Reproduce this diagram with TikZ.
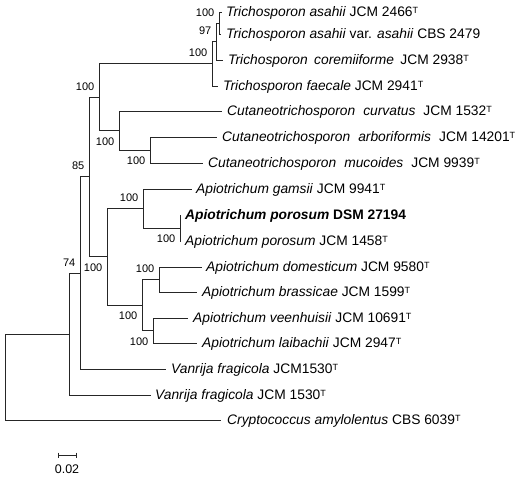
\documentclass[tikz,border=0pt]{standalone}
\usepackage{fontspec}
\setmainfont{Liberation Sans}
\usetikzlibrary{positioning}

% type strain mark
\newcommand{\tstrain}{\raisebox{3.4pt}{\fontsize{9}{9}\selectfont T}}
% wide word gaps
\newcommand{\wsp}{\hskip 8pt}
\newcommand{\msp}{\hskip 6.5pt}

\begin{document}
\begin{tikzpicture}[x=1pt, y=-1pt,
    branch/.style={draw=black!85, line width=0.8pt},
    taxon/.style={inner sep=0pt, font=\fontsize{13.8}{16}\selectfont,
      text height=11.9pt, text depth=2pt},
    boot/.style={inner sep=0pt, font=\fontsize{11}{13}\selectfont,
      anchor=east, xshift=-4.5pt},
    bup/.style={boot, yshift=10.75pt},
    bdown/.style={boot, yshift=-10.75pt}]
  \useasboundingbox (0,0) rectangle (517,478);

  % leaf tips
  \coordinate (t1) at (222, 12);
  \coordinate (t2) at (221, 34);
  \coordinate (t3) at (223, 60);
  \coordinate (t4) at (218, 86);
  \coordinate (t5) at (222, 111);
  \coordinate (t6) at (217, 137);
  \coordinate (t7) at (203, 163);
  \coordinate (t8) at (192, 189);
  \coordinate (t9) at (181, 215);
  \coordinate (t10) at (181, 241);
  \coordinate (t11) at (202, 267);
  \coordinate (t12) at (197, 292);
  \coordinate (t13) at (188, 318);
  \coordinate (t14) at (197, 343);
  \coordinate (t15) at (166, 369);
  \coordinate (t16) at (151, 395);
  \coordinate (t17) at (221, 420);

  % inner nodes
  \coordinate (n1) at (219, 23);
  \coordinate (n2) at (216, 41.5);
  \coordinate (n3) at (212, 63.75);
  \coordinate (n6) at (150, 150);
  \coordinate (n5) at (119, 130.5);
  \coordinate (n4) at (99, 97.1);
  \coordinate (n10) at (180, 228);
  \coordinate (n9) at (143, 208.5);
  \coordinate (n12) at (159, 279.5);
  \coordinate (n13) at (153, 330.5);
  \coordinate (n11) at (142, 305);
  \coordinate (n8) at (107, 256.75);
  \coordinate (n7) at (89, 176.9);
  \coordinate (n14) at (80, 273);
  \coordinate (n15) at (69, 334);
  \coordinate (root) at (5, 377);

  % branches
  \draw[branch] (n1) |- (t1);   \draw[branch] (n1) |- (t2);
  \draw[branch] (n2) |- (n1);   \draw[branch] (n2) |- (t3);
  \draw[branch] (n3) |- (n2);   \draw[branch] (n3) |- (t4);
  \draw[branch] (n6) |- (t6);   \draw[branch] (n6) |- (t7);
  \draw[branch] (n5) |- (t5);   \draw[branch] (n5) |- (n6);
  \draw[branch] (n4) |- (n3);   \draw[branch] (n4) |- (n5);
  \draw[branch] (n10) |- (t9);  \draw[branch] (n10) |- (t10);
  \draw[branch] (n9) |- (t8);   \draw[branch] (n9) |- (n10);
  \draw[branch] (n12) |- (t11); \draw[branch] (n12) |- (t12);
  \draw[branch] (n13) |- (t13); \draw[branch] (n13) |- (t14);
  \draw[branch] (n11) |- (n12); \draw[branch] (n11) |- (n13);
  \draw[branch] (n8) |- (n9);   \draw[branch] (n8) |- (n11);
  \draw[branch] (n7) |- (n4);   \draw[branch] (n7) |- (n8);
  \draw[branch] (n14) |- (n7);  \draw[branch] (n14) |- (t15);
  \draw[branch] (n15) |- (n14); \draw[branch] (n15) |- (t16);
  \draw[branch] (root) |- (n15); \draw[branch] (root) |- (t17);

  % bootstrap values
  \node[bup] (b1) at (n1) {100};
  \node[bup] (b2) at (n2) {97};
  \node[bup] (b3) at (n3) {100};
  \node[bup] (b4) at (n4) {100};
  \node[bdown] (b5) at (n5) {100};
  \node[bdown] (b6) at (n6) {100};
  \node[bup] (b7) at (n7) {85};
  \node[bdown] (b8) at (n8) {100};
  \node[bup] (b9) at (n9) {100};
  \node[bdown] (b10) at (n10) {100};
  \node[bdown] (b11) at (n11) {100};
  \node[bup] (b12) at (n12) {100};
  \node[bdown] (b13) at (n13) {100};
  \node[bup] (b14) at (n14) {74};

  % taxa
  \node[taxon, right=4pt of t1] (L1) {\textit{Trichosporon asahii} JCM 2466\tstrain};
  \node[taxon, right=5pt of t2] (L2) {\textit{Trichosporon asahii} var. \textit{asahii} CBS 2479};
  \node[taxon, right=5pt of t3] (L3) {\textit{Trichosporon\msp coremiiforme}\msp JCM 2938\tstrain};
  \node[taxon, right=5pt of t4] (L4) {\textit{Trichosporon faecale} JCM 2941\tstrain};
  \node[taxon, right=5pt of t5] (L5) {\textit{Cutaneotrichosporon\wsp curvatus}\wsp JCM 1532\tstrain};
  \node[taxon, right=5pt of t6] (L6) {\textit{Cutaneotrichosporon\wsp arboriformis}\wsp JCM 14201\tstrain};
  \node[taxon, right=5pt of t7] (L7) {\textit{Cutaneotrichosporon\wsp mucoides}\wsp JCM 9939\tstrain};
  \node[taxon, right=4pt of t8] (L8) {\textit{Apiotrichum gamsii} JCM 9941\tstrain};
  \node[taxon, right=4pt of t9] (L9) {\textbf{\textit{Apiotrichum porosum} DSM 27194}};
  \node[taxon, right=4pt of t10] (L10) {\textit{Apiotrichum porosum} JCM 1458\tstrain};
  \node[taxon, right=4pt of t11] (L11) {\textit{Apiotrichum domesticum} JCM 9580\tstrain};
  \node[taxon, right=5pt of t12] (L12) {\textit{Apiotrichum brassicae} JCM 1599\tstrain};
  \node[taxon, right=5pt of t13] (L13) {\textit{Apiotrichum veenhuisii} JCM 10691\tstrain};
  \node[taxon, right=5pt of t14] (L14) {\textit{Apiotrichum laibachii} JCM 2947\tstrain};
  \node[taxon, right=5pt of t15] (L15) {\textit{Vanrija fragicola} JCM1530\tstrain};
  \node[taxon, right=4pt of t16] (L16) {\textit{Vanrija fragicola} JCM 1530\tstrain};
  \node[taxon, right=6pt of t17] (L17) {\textit{Cryptococcus amylolentus} CBS 6039\tstrain};

  % scale bar
  \coordinate (sbl) at (58, 455);
  \coordinate (sbr) at (76, 455);
  \draw[branch] (sbl) -- (sbr);
  \draw[branch] ([yshift=2.5pt]sbl) -- ([yshift=-2.5pt]sbl);
  \draw[branch] ([yshift=2.5pt]sbr) -- ([yshift=-2.5pt]sbr);
  \node[inner sep=0pt, font=\fontsize{12.5}{14}\selectfont] (sblab) at (67, 469) {0.02};
\end{tikzpicture}
\end{document}
